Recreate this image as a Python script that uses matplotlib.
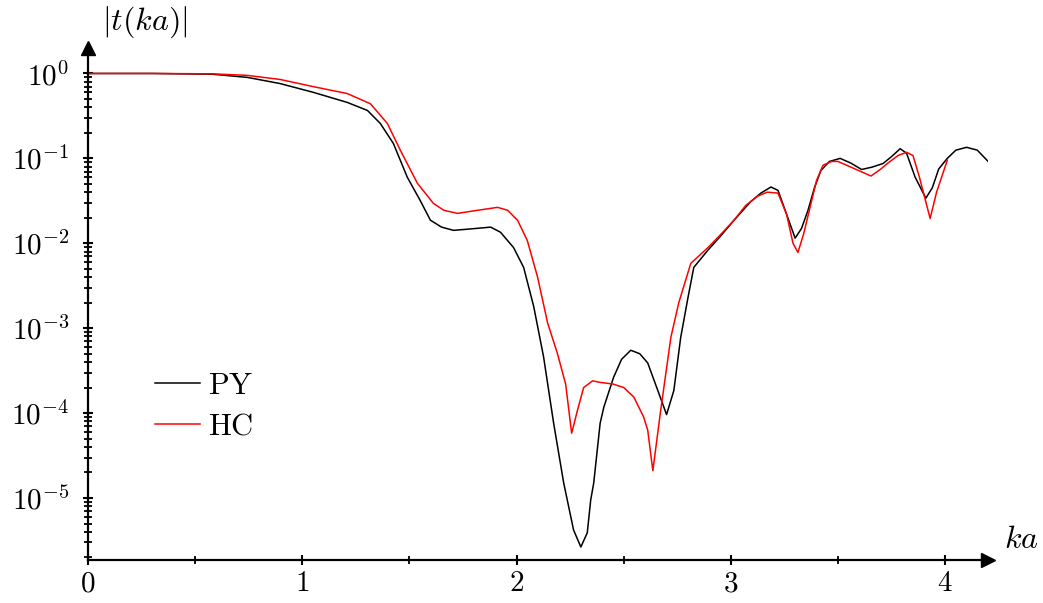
import numpy as np
import matplotlib.pyplot as plt
from matplotlib.ticker import FixedLocator, MultipleLocator, NullFormatter

plt.rcParams['mathtext.fontset'] = 'cm'
plt.rcParams['font.family'] = 'DejaVu Serif'

# PY curve (black)
ka_py = [0.0, 0.3, 0.58, 0.743, 0.897, 1.051, 1.21, 1.304, 1.364, 1.425, 1.49, 1.55,
         1.598, 1.65, 1.706, 1.79, 1.879, 1.925, 1.986, 2.033, 2.08, 2.126, 2.173,
         2.22, 2.266, 2.30, 2.33, 2.346, 2.36, 2.39, 2.407, 2.453, 2.49, 2.533, 2.575,
         2.612, 2.659, 2.70, 2.734, 2.766, 2.80, 2.827, 2.893, 2.95, 3.014, 3.093,
         3.14, 3.187, 3.22, 3.26, 3.30, 3.33, 3.36, 3.39, 3.42, 3.46, 3.51, 3.56, 3.61,
         3.66, 3.71, 3.75, 3.79, 3.82, 3.86, 3.91, 3.94, 3.97, 4.01, 4.05, 4.10, 4.15, 4.21]
t_py = [1.0, 1.0, 0.98, 0.90, 0.76, 0.60, 0.456, 0.367, 0.258, 0.15, 0.060, 0.032,
        0.0187, 0.0155, 0.0142, 0.0148, 0.0155, 0.0135, 0.0089, 0.0052, 1.8e-3, 4.6e-4, 7.6e-5,
        1.5e-5, 4.2e-6, 2.65e-6, 3.9e-6, 9.5e-6, 1.5e-5, 7.6e-5, 1.17e-4, 2.65e-4, 4.3e-4, 5.5e-4, 5.0e-4,
        3.9e-4, 1.85e-4, 9.6e-5, 1.85e-4, 7.8e-4, 2.3e-3, 5.2e-3, 8.3e-3, 1.2e-2, 0.0186, 0.031,
        0.039, 0.046, 0.042, 0.022, 0.0115, 0.015, 0.0245, 0.045, 0.072, 0.092, 0.100, 0.088, 0.074,
        0.079, 0.087, 0.105, 0.13, 0.115, 0.06, 0.034, 0.045, 0.075, 0.10, 0.125, 0.135, 0.125, 0.087]

# HC curve (red)
ka_hc = [0.0, 0.3, 0.58, 0.743, 0.897, 1.051, 1.21, 1.318, 1.397, 1.458, 1.537,
         1.612, 1.66, 1.724, 1.82, 1.911, 1.958, 2.005, 2.05, 2.098, 2.145, 2.19,
         2.229, 2.257, 2.285, 2.313, 2.355, 2.39, 2.45, 2.50, 2.547, 2.593, 2.612,
         2.636, 2.673, 2.72, 2.757, 2.813, 2.893, 2.95, 3.014, 3.07, 3.126, 3.17,
         3.22, 3.26, 3.29, 3.313, 3.34, 3.374, 3.40, 3.43, 3.47, 3.50, 3.58, 3.654,
         3.70, 3.73, 3.78, 3.82, 3.85, 3.88, 3.93, 3.96, 4.01]
t_hc = [1.0, 1.0, 0.99, 0.95, 0.85, 0.70, 0.58, 0.44, 0.258, 0.124, 0.051,
        0.0295, 0.0245, 0.0225, 0.0245, 0.0265, 0.0245, 0.0186, 0.0108, 4.0e-3, 1.15e-3, 5.1e-4,
        2.2e-4, 5.8e-5, 1.1e-4, 2.0e-4, 2.4e-4, 2.3e-4, 2.2e-4, 2.0e-4, 1.55e-4, 9e-5, 6.3e-5,
        2.1e-5, 1.1e-4, 7.8e-4, 2.0e-3, 5.8e-3, 8.9e-3, 1.25e-2, 0.0186, 0.028, 0.036, 0.040,
        0.039, 0.022, 0.010, 0.0078, 0.013, 0.0295, 0.055, 0.083, 0.092, 0.092, 0.075, 0.062,
        0.075, 0.087, 0.108, 0.118, 0.108, 0.06, 0.0196, 0.04, 0.095]

x_ticks = [0, 1, 2, 3, 4]
y_ticks = [1e0, 1e-1, 1e-2, 1e-3, 1e-4, 1e-5]

fig = plt.figure(figsize=(10.43, 6.03), dpi=100)
ax = fig.add_axes([88/1043, 1 - 560/603, 900/1043, (560 - 48)/603])

ax.plot(ka_py, t_py, color='black', lw=1.1, label=r'$\mathrm{PY}$')
ax.plot(ka_hc, t_hc, color='red', lw=1.1, label=r'$\mathrm{HC}$')

ax.set_yscale('log')
ax.set_xlim(0, 4.2)
ax.set_ylim(10**-5.73, 10**0.3)

for s in ['top', 'right']:
    ax.spines[s].set_visible(False)
for s in ['left', 'bottom']:
    ax.spines[s].set_linewidth(1.6)

ax.plot(1, 0, '>k', ms=10, transform=ax.transAxes, clip_on=False)
ax.plot(0, 1, '^k', ms=10, transform=ax.transAxes, clip_on=False)

ax.set_xticks(x_ticks)
ax.set_xticklabels([rf'${v}$' for v in x_ticks])
ax.xaxis.set_minor_locator(MultipleLocator(0.5))

ax.yaxis.set_major_locator(FixedLocator(y_ticks))
ax.set_yticklabels([rf'$10^{{{int(np.log10(v))}}}$' for v in y_ticks])
minor_y = [m * 10.0**e for e in range(-6, 0) for m in range(2, 10)]
minor_y = [v for v in minor_y if v >= 10**-5.73]
ax.yaxis.set_minor_locator(FixedLocator(minor_y))
ax.yaxis.set_minor_formatter(NullFormatter())

ax.tick_params(which='major', direction='inout', length=7, width=1.5, labelsize=21)
ax.tick_params(axis='x', which='major', pad=3)
ax.tick_params(axis='y', which='major', pad=10)
ax.tick_params(which='minor', direction='inout', length=6, width=1.3)

ax.text(4.276, 10**-5.49, r'$ka$', fontsize=23, ha='left', va='center')
ax.text(0.266, 10**0.6, r'$|t(ka)|$', fontsize=23, ha='center', va='center', clip_on=False)

ax.legend(loc='upper left', bbox_to_anchor=(0.0744, 0.371), frameon=False, fontsize=22,
          borderpad=0, borderaxespad=0, handlelength=1.47, handletextpad=0.26,
          labelspacing=0.3)

plt.savefig('out.png', dpi=100)
